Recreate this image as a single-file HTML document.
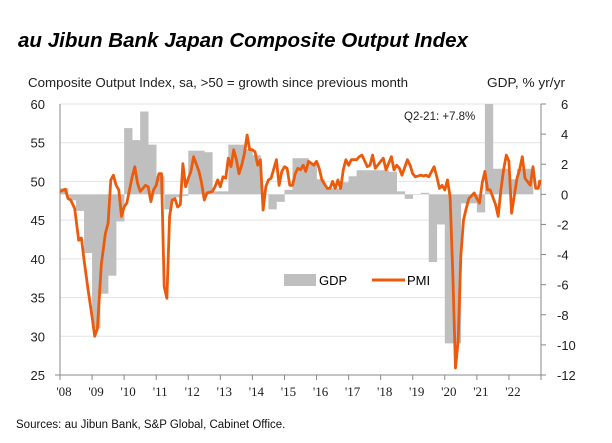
<!DOCTYPE html>
<html><head><meta charset="utf-8"><style>
body{margin:0;background:#fff;}
svg{display:block;font-family:"Liberation Sans",sans-serif;}
</style></head><body>
<svg id="chart" width="612" height="443" viewBox="0 0 612 443">
<text x="18" y="47" font-size="20" font-weight="bold" font-style="italic" textLength="450" lengthAdjust="spacingAndGlyphs">au Jibun Bank Japan Composite Output Index</text>
<text x="28" y="87" font-size="12.5" fill="#222" textLength="380" lengthAdjust="spacingAndGlyphs">Composite Output Index, sa, &gt;50 = growth since previous month</text>
<text x="487" y="87" font-size="12.5" fill="#222" textLength="78" lengthAdjust="spacingAndGlyphs">GDP, % yr/yr</text>
<g id="grid"></g><g id="bars"></g><g id="axes"></g><g id="line"></g>
<text x="404" y="120" font-size="11.5" fill="#222">Q2-21: +7.8%</text>
<rect x="284" y="274" width="32" height="12" fill="#bfbfbf"/>
<text x="319" y="285" font-size="13">GDP</text>
<line x1="372" y1="280" x2="405" y2="280" stroke="#ec5b0b" stroke-width="3"/>
<text x="407" y="285" font-size="13">PMI</text>
<text x="16" y="428" font-size="11.5" fill="#111">Sources: au Jibun Bank, S&amp;P Global, Cabinet Office.</text>
</svg>
<script>
const pmiMonths=[0,2,3,4,5.5,7,8,9,10.5,12,13,14,15.5,17,18,19,20,21,22,23,24,25,27,28,29,30,32,33,34,35,36,37,38,39,40,41,42,43,44,45,46,47,48,49,50,52,53,54,55,57,58,59,60,61,62,63,64,65,66,67,68,69,70,71,72,73,74,75,76,77,78,79,81,82,83,84,85,86,87,88,89,90,91,92,93,95,96,97,98,100,101,102,103,104,105,106,107,108,109,111,112,113,115,116,117,118,120,121,122,124,125,126,127,128,130,131,132,133,135,136,137,138,140,141,142,143,144,145,146,147,148,149,150,151,152,153,155,156,157,158,159,160,161,163,164,165,166,167,168,169,171,172,173,174,176,177,178,179,179.6];
const pmiValues=[48.7,49.0,47.8,47.6,46.5,42.4,42.7,39.9,36.0,32.5,30.0,31.0,39.4,43.3,44.6,50.2,50.8,49.5,48.9,45.5,46.7,47.2,50.6,51.9,49.8,48.7,49.5,49.3,47.4,48.9,49.5,51.0,51.0,36.4,34.9,45.5,47.6,47.8,46.7,47.0,52.3,49.3,50.4,51.3,53.2,51.3,49.8,47.6,48.5,48.7,49.3,50.2,49.3,50.6,50.4,53.0,51.9,54.1,52.8,51.0,52.1,53.6,56.0,54.1,54.1,53.8,52.1,52.8,46.3,49.3,50.2,50.4,52.8,49.5,51.3,51.9,51.7,49.5,49.5,51.0,51.7,51.5,52.1,51.3,52.6,52.1,52.6,51.7,50.2,49.1,49.1,50.0,49.1,50.2,49.1,51.5,52.8,52.1,52.8,52.8,53.2,53.4,51.9,52.1,53.4,51.7,52.6,53.0,51.5,53.2,51.5,52.1,51.7,50.8,52.8,52.1,51.0,50.6,50.8,50.7,50.8,50.6,51.9,50.6,49.1,49.5,48.9,50.2,48.0,38.1,25.9,29.5,40.3,45.0,46.5,47.8,48.5,47.8,47.2,49.8,51.3,48.9,48.9,47.0,45.5,48.9,51.5,53.4,52.6,45.9,50.4,51.5,53.2,50.4,49.5,51.9,49.1,49.1,50.2];
const gdpValues=[0.4,-0.4,-1.1,-3.9,-8.9,-6.6,-5.4,-1.8,4.4,3.6,5.5,3.3,1.2,-1.0,-0.2,-0.1,2.9,2.9,2.8,0.2,0.2,3.3,3.3,3.0,2.6,0.0,-1.0,-0.5,0.3,2.4,2.4,2.0,1.0,0.4,0.4,0.8,1.2,1.6,1.6,1.6,1.6,1.5,0.2,-0.3,0.0,0.1,-4.5,-2.0,-9.9,-9.9,-0.6,-0.6,-1.2,7.8,1.7,1.7,1.0,1.7,1.7];
const leftTicks=[25,30,35,40,45,50,55,60];
const rightTicks=[-12,-10,-8,-6,-4,-2,0,2,4,6];
const yearLabels=["'08","'09","'10","'11","'12","'13","'14","'15","'16","'17","'18","'19","'20","'21","'22"];

const NS="http://www.w3.org/2000/svg";
const X0=60,X1=541,YT=104,YB=375;
const xM=m=>X0+(X1-X0)*m/180;
const yL=v=>YB-(v-25)/35*(YB-YT);
const yR=v=>YB-(v+12)/18*(YB-YT);
function mk(tag,attrs,parent){const e=document.createElementNS(NS,tag);for(const k in attrs)e.setAttribute(k,attrs[k]);document.getElementById(parent).appendChild(e);return e;}

leftTicks.forEach(t=>{
  if(t>25){const g=mk('line',{x1:X0,x2:X1,y1:yL(t),y2:yL(t),stroke:'#e3e3e3','stroke-width':1},'grid');
  
  }
  const l=mk('text',{x:45,y:yL(t)+5,'font-size':13,'text-anchor':'end',fill:'#222'},'axes');
  l.textContent=t;
  
  
});
rightTicks.forEach(t=>{
  const l=mk('text',{x:t<0?557:561,y:yR(t)+5,'font-size':13,fill:'#222'},'axes');
  l.textContent=t;
  
  
  const k=mk('line',{x1:X1,x2:X1+5,y1:yR(t),y2:yR(t),stroke:'#888'},'axes');
  
  
});
gdpValues.forEach((v,i)=>{
  const top=Math.min(v,6);
  const y1=yR(Math.max(top,0)),y2=yR(Math.min(v,0));
  const b=mk('rect',{x:xM(i*3),y:y1,width:xM(i*3+3)-xM(i*3)+0.3,height:Math.max(y2-y1,0.5),fill:'#bfbfbf'},'bars');
  
  
});
const ax=mk('line',{x1:X0,x2:X0,y1:YT,y2:YB,stroke:'#888'},'axes');


const ax2=mk('line',{x1:X1,x2:X1,y1:YT,y2:YB,stroke:'#888'},'axes');


const ax3=mk('line',{x1:X0-5,x2:X1,y1:YB,y2:YB,stroke:'#888'},'axes');


for(let y=0;y<=15;y++){
  const k=mk('line',{x1:xM(y*12),x2:xM(y*12),y1:YB,y2:YB+5,stroke:'#888'},'axes');
  
  
}
yearLabels.forEach((s,i)=>{
  const l=mk('text',{x:xM(i*12)+4,y:396,'font-size':13,'text-anchor':'middle','font-family':'"Liberation Serif",serif',fill:'#222'},'axes');
  l.textContent=s;
  
  
});
const d=pmiMonths.map((m,i)=>(i?'L':'M')+xM(m).toFixed(1)+','+yL(pmiValues[i]).toFixed(1)).join(' ');
const p=mk('path',{d:d,fill:'none',stroke:'#ec5b0b','stroke-width':2.8,'stroke-linejoin':'round'},'line');


</script>
</body></html>
